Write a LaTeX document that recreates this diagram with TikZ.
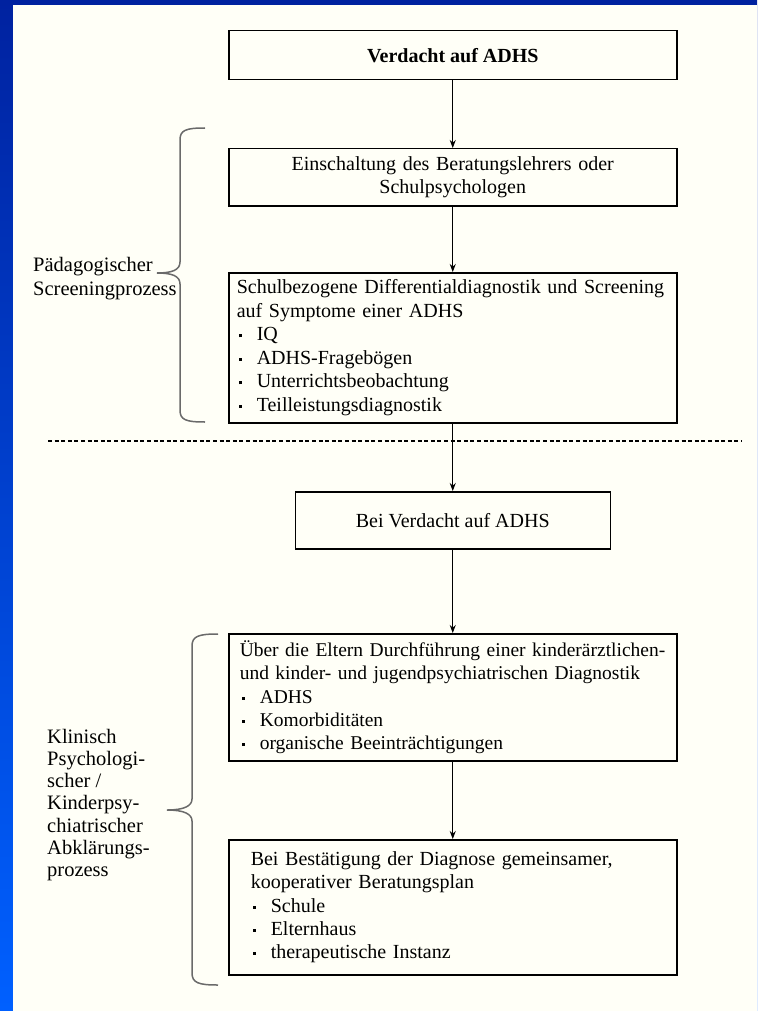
\documentclass[tikz,border=0pt]{standalone}
\usepackage{fontspec}
\usepackage{graphicx}
\setmainfont{Liberation Serif}
\usetikzlibrary{arrows.meta}

\definecolor{navy}{HTML}{0022A0}
\definecolor{brightblue}{HTML}{0060FF}
\definecolor{paper}{HTML}{FFFFF7}
\definecolor{bracegray}{HTML}{6A6A6A}

% bullet item with a small square dot
\newcommand{\itm}{\hspace{2pt}\makebox[18pt][l]{\raisebox{0.38ex}{\rule{3pt}{3pt}}}}

\tikzset{
  flowbox/.style={draw=black, line width=1.5pt, fill=paper, inner sep=0pt,
    minimum width=448pt, anchor=north west,
    font=\fontsize{20}{23.5}\selectfont},
  listbox/.style={flowbox, align=left, text width=432pt, inner xsep=8pt},
  flowarrow/.style={line width=0.9pt, -{Stealth[length=8pt,width=6pt]}},
  bracket/.style={draw=bracegray, line width=1.5pt},
  sidelabel/.style={anchor=west, align=left, inner sep=0pt},
  separator/.style={line width=1.2pt, dash pattern=on 4pt off 2.6pt}
}

\begin{document}
\begin{tikzpicture}[x=1pt,y=-1pt]
  \useasboundingbox (0,0) rectangle (757,1011);
  % slide frame and paper area
  \shade[top color=navy, bottom color=brightblue] (0,0) rectangle (757,1011);
  \fill[paper] (13,5) rectangle (757,1011);

  % boxes of the process
  \node[flowbox, minimum height=49pt, font=\fontsize{20}{23.5}\selectfont\bfseries]
    (b1) at (228,30) {Verdacht auf ADHS};
  \node[flowbox, minimum height=57pt, align=center, text width=440pt]
    (b2) at (228,148) {Einschaltung des Beratungslehrers oder\\Schulpsychologen};
  \node[listbox, minimum height=150pt] (b3) at (228,272)
    {Schulbezogene Differentialdiagnostik und Screening\\
     auf Symptome einer ADHS\\
     \itm IQ\\
     \itm ADHS-Fragebögen\\
     \itm Unterrichtsbeobachtung\\
     \itm Teilleistungsdiagnostik};
  \node[flowbox, minimum width=315pt, minimum height=57pt]
    (b4) at (294.5,491) {Bei Verdacht auf ADHS};
  \node[listbox, minimum height=127pt, text width=426pt, inner xsep=11pt,
        font=\fontsize{19.5}{23.2}\selectfont] (b5) at (228,633)
    {\mbox{Über die Eltern Durchführung einer kinderärztlichen-}\\
     und kinder- und jugendpsychiatrischen Diagnostik\\
     \itm ADHS\\
     \itm Komorbiditäten\\
     \itm organische Beeinträchtigungen};
  \node[listbox, minimum height=135pt, text width=404pt, inner xsep=22pt,
        font=\fontsize{20}{23.2}\selectfont] (b6) at (228,839)
    {Bei Bestätigung der Diagnose gemeinsamer,\\
     kooperativer Beratungsplan\\
     \itm Schule\\
     \itm Elternhaus\\
     \itm therapeutische Instanz};

  % connectors
  \draw[flowarrow] (b1.south) -- (b2.north);
  \draw[flowarrow] (b2.south) -- (b3.north);
  \draw[flowarrow] (b3.south) -- (b4.north);
  \draw[flowarrow] (b4.south) -- (b5.north);
  \draw[flowarrow] (b5.south) -- (b6.north);

  % separator between school and clinical part
  \coordinate (sepL) at (48,441);
  \coordinate (sepR) at (742,441);
  \draw[separator] (sepL) -- (sepR);

  % braces
  \draw[bracket] (205,128) .. controls (186,128) and (180,130) .. (180,140)
    -- (180,262) .. controls (180,270) and (172,273) .. (157,273)
    .. controls (172,273) and (180,276) .. (180,284)
    -- (180,410) .. controls (180,420) and (186,422) .. (205,422);
  \draw[bracket] (218,634) .. controls (199,634) and (192,636) .. (192,646)
    -- (192,799) .. controls (192,806) and (184,810) .. (167,810)
    .. controls (184,810) and (192,814) .. (192,821)
    -- (192,973) .. controls (192,983) and (199,985) .. (218,985);

  % side labels
  \node[sidelabel, font=\fontsize{20.5}{24}\selectfont] (l1) at (33,279)
    {Pädagogischer\\Screeningprozess};
  \node[sidelabel, font=\fontsize{20.5}{22.3}\selectfont] (l2) at (47,805)
    {Klinisch\\Psychologi-\\scher /\\Kinderpsy-\\chiatrischer\\Abklärungs-\\prozess};
\end{tikzpicture}
\end{document}
